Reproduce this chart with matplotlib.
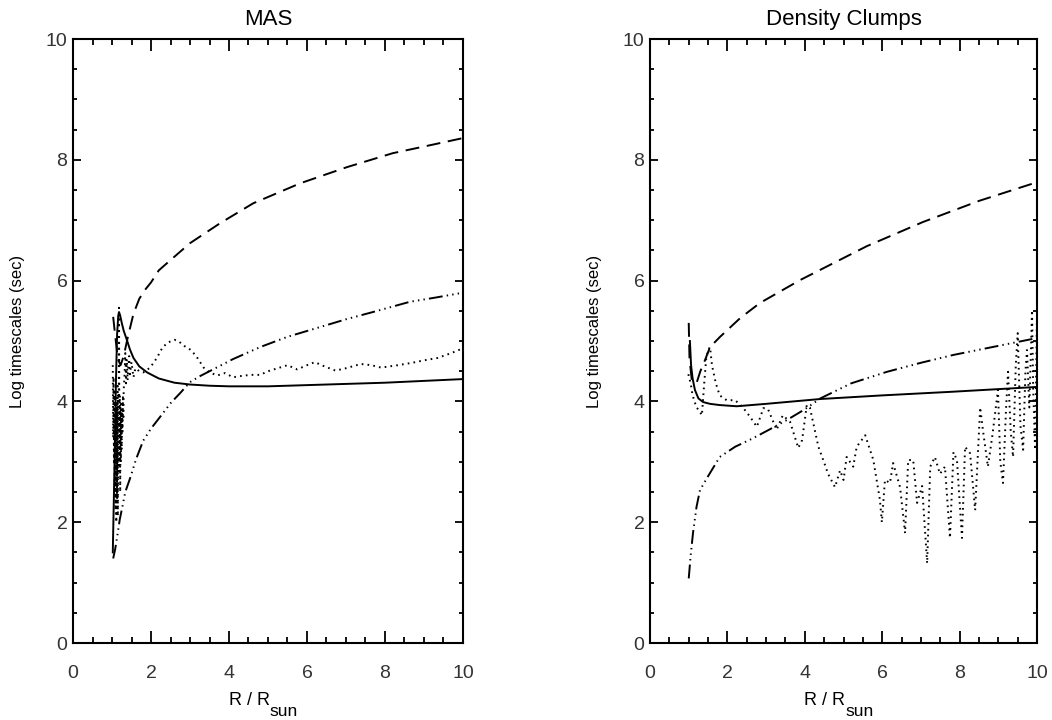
import matplotlib
matplotlib.use('Agg')
import matplotlib.pyplot as plt
from matplotlib.ticker import MultipleLocator

plt.rcParams['font.family'] = ['Liberation Sans', 'DejaVu Sans']
plt.rcParams['lines.scale_dashes'] = False

# ---- MAS panel ----
mas_solid_x = [1.02, 1.06, 1.10, 1.13, 1.16, 1.18, 1.21, 1.25, 1.30, 1.38, 1.46, 1.55, 1.70,
               1.90, 2.20, 2.60, 3.00, 3.50, 4.00, 5.00, 6.00, 7.00, 8.00, 9.00, 10.0]
mas_solid_y = [1.50, 2.80, 4.30, 5.10, 5.42, 5.48, 5.42, 5.30, 5.17, 5.02, 4.86, 4.72, 4.58,
               4.48, 4.38, 4.31, 4.28, 4.26, 4.25, 4.25, 4.27, 4.29, 4.31, 4.34, 4.37]

mas_dash_x = [1.03, 1.08, 1.15, 1.22, 1.30, 1.40, 1.55, 1.70, 1.85, 2.00, 2.20, 2.50, 3.00,
              3.77, 4.62, 5.82, 7.03, 8.20, 9.00, 10.0]
mas_dash_y = [5.40, 5.10, 4.70, 4.60, 4.75, 5.05, 5.45, 5.70, 5.85, 5.97, 6.17, 6.34, 6.62,
              6.95, 7.28, 7.61, 7.88, 8.11, 8.22, 8.36]

mas_dd_x = [1.03, 1.08, 1.13, 1.20, 1.28, 1.34, 1.47, 1.62, 1.80, 2.00, 2.24, 2.50, 2.75,
            3.00, 3.26, 3.50, 4.10, 4.80, 5.50, 6.33, 7.00, 7.69, 8.64, 9.30, 10.0]
mas_dd_y = [1.40, 1.55, 1.75, 2.05, 2.30, 2.50, 2.74, 3.05, 3.35, 3.55, 3.75, 3.97, 4.14,
            4.32, 4.42, 4.50, 4.70, 4.90, 5.07, 5.23, 5.36, 5.48, 5.65, 5.72, 5.80]

mas_dot_x = [1.02, 1.03, 1.04, 1.05, 1.06, 1.07, 1.08, 1.09, 1.10, 1.11, 1.12, 1.13, 1.14,
             1.15, 1.16, 1.17, 1.18, 1.19, 1.20, 1.21, 1.22, 1.23, 1.24, 1.25, 1.26, 1.27,
             1.28, 1.29, 1.30,
             1.32, 1.34, 1.36, 1.38, 1.40, 1.42, 1.44, 1.46, 1.48, 1.50,
             1.55, 1.60, 1.70, 1.80, 1.90, 2.00,
             2.15, 2.30, 2.45, 2.60, 2.70, 2.85, 3.00,
             3.15, 3.35, 3.50, 3.70, 3.90, 4.10, 4.30, 4.55, 4.80, 5.00,
             5.30, 5.50, 5.75, 6.00, 6.20, 6.45, 6.73, 7.00, 7.38, 7.65, 7.90, 8.33, 8.70,
             9.00, 9.35, 9.70, 10.0]
mas_dot_y = [4.60, 3.40, 4.40, 3.00, 4.20, 2.60, 4.10, 2.20, 3.90, 2.00, 4.00, 2.40, 4.30,
             2.10, 4.10, 2.80, 5.55, 3.00, 4.10, 2.50, 3.90, 3.00, 4.00, 3.20, 3.80, 3.50,
             4.10, 3.70, 4.20,
             4.40, 4.80, 4.30, 4.70, 4.35, 4.60, 4.75, 4.45, 4.55, 4.65,
             4.40, 4.55, 4.50, 4.48, 4.52, 4.58,
             4.72, 4.90, 4.98, 5.02, 5.00, 4.92, 4.86,
             4.76, 4.56, 4.48, 4.43, 4.47, 4.40, 4.42, 4.44, 4.44, 4.50,
             4.56, 4.60, 4.53, 4.60, 4.65, 4.58, 4.51, 4.55, 4.62, 4.60, 4.56, 4.60, 4.64,
             4.68, 4.72, 4.80, 4.88]

# ---- Density Clumps panel ----
dc_solid_x = [1.03, 1.06, 1.10, 1.16, 1.25, 1.37, 1.55, 1.80, 2.24, 3.00, 4.40, 6.00, 7.80, 10.0]
dc_solid_y = [5.00, 4.60, 4.38, 4.19, 4.05, 3.99, 3.96, 3.94, 3.92, 3.96, 4.04, 4.10, 4.16, 4.24]

dc_dash_x = [1.00, 1.02, 1.08, 1.20, 1.30, 1.40, 1.55, 1.81, 2.33, 2.84, 3.88, 5.60, 7.05, 8.50, 10.0]
dc_dash_y = [5.30, 4.70, 4.35, 4.30, 4.50, 4.65, 4.90, 5.07, 5.38, 5.63, 6.01, 6.57, 6.97, 7.32, 7.63]

dc_dd_x = [1.00, 1.05, 1.11, 1.20, 1.29, 1.47, 1.80, 2.20, 2.66, 3.10, 3.53, 4.00, 4.40,
           5.20, 6.12, 7.00, 7.84, 9.00, 10.0]
dc_dd_y = [1.07, 1.45, 1.82, 2.25, 2.53, 2.73, 3.08, 3.25, 3.39, 3.54, 3.69, 3.87, 4.05,
           4.30, 4.49, 4.64, 4.77, 4.92, 5.05]

dc_dot_x = [0.99, 1.05, 1.10, 1.20, 1.27, 1.34, 1.40, 1.45, 1.50, 1.55, 1.60, 1.70, 1.80,
            1.98, 2.20, 2.40, 2.58, 2.76, 2.93, 3.05, 3.27, 3.43, 3.62, 3.83, 3.93, 4.05,
            4.13, 4.35, 4.52, 4.60, 4.78, 4.91, 5.00, 5.08, 5.25, 5.34, 5.56, 5.77, 5.94,
            5.99, 6.07, 6.20, 6.28, 6.46, 6.59, 6.67, 6.80, 6.90, 7.03, 7.16, 7.24, 7.36,
            7.49, 7.62, 7.75, 7.84, 7.93, 8.06, 8.14, 8.27, 8.40, 8.53, 8.60, 8.73, 8.84,
            8.99, 9.05, 9.12, 9.20, 9.25, 9.32, 9.38, 9.45, 9.50, 9.57, 9.64, 9.70, 9.74,
            9.80, 9.87, 9.90, 9.95, 10.0]
dc_dot_y = [4.45, 4.30, 4.10, 3.90, 3.85, 3.77, 4.30, 4.70, 4.85, 4.90, 4.60, 4.30, 4.10,
            4.02, 4.02, 3.90, 3.75, 3.58, 3.89, 3.87, 3.53, 3.77, 3.66, 3.23, 3.36, 3.94,
            3.90, 3.25, 2.95, 2.80, 2.58, 2.86, 2.70, 3.08, 2.92, 3.25, 3.44, 3.03, 2.37,
            2.00, 2.70, 2.65, 2.98, 2.58, 1.82, 3.03, 3.03, 2.32, 2.60, 1.32, 2.92, 3.08,
            2.80, 2.92, 1.74, 3.16, 3.03, 1.74, 3.25, 3.14, 2.20, 3.90, 3.53, 2.92, 3.41,
            4.19, 3.00, 2.65, 3.90, 4.49, 3.50, 3.08, 4.60, 5.13, 3.60, 3.20, 4.50, 4.85,
            3.90, 5.51, 4.20, 3.20, 5.50]

titles = ['MAS', 'Density Clumps']

DASH = (0, (10, 5.5))
DASHDOT3 = (0, (10, 3, 1, 3, 1, 3, 1, 3))
DOT = (0, (1.2, 3.0))
LW = 1.4

fig = plt.figure(figsize=(10.52, 7.2), dpi=100)
ax1 = fig.add_axes([0.0694, 0.1069, 0.3707, 0.8389])
ax2 = fig.add_axes([0.6179, 0.1069, 0.3679, 0.8389])

panels = [
    (ax1, mas_solid_x, mas_solid_y, mas_dash_x, mas_dash_y, mas_dd_x, mas_dd_y, mas_dot_x, mas_dot_y),
    (ax2, dc_solid_x, dc_solid_y, dc_dash_x, dc_dash_y, dc_dd_x, dc_dd_y, dc_dot_x, dc_dot_y),
]

for i, (ax, sx, sy, dx, dy, ddx, ddy, ox, oy) in enumerate(panels):
    ax.plot(sx, sy, color='black', lw=LW, linestyle='-')
    ax.plot(dx, dy, color='black', lw=LW, linestyle=DASH)
    ax.plot(ddx, ddy, color='black', lw=LW, linestyle=DASHDOT3)
    ax.plot(ox, oy, color='black', lw=LW, linestyle=DOT)

    ax.set_xlim(0, 10)
    ax.set_ylim(0, 10)
    ax.xaxis.set_major_locator(MultipleLocator(2))
    ax.xaxis.set_minor_locator(MultipleLocator(0.5))
    ax.yaxis.set_major_locator(MultipleLocator(2))
    ax.yaxis.set_minor_locator(MultipleLocator(0.5))
    ax.tick_params(axis='x', which='both', direction='in', top=True, bottom=True,
                   labelsize=14, pad=16, width=1.3)
    ax.tick_params(axis='x', which='major', length=8.5)
    ax.tick_params(axis='x', which='minor', length=4.3)
    ax.tick_params(axis='y', which='both', direction='in', left=True, right=True,
                   labelsize=14, pad=4, width=1.3)
    ax.tick_params(axis='y', which='major', length=5.8)
    ax.tick_params(axis='y', which='minor', length=2.9)
    for lab in ax.get_xticklabels() + ax.get_yticklabels():
        lab.set_color('#333333')
    for sp in ax.spines.values():
        sp.set_linewidth(1.5)

    ax.set_title(titles[i], fontsize=16, pad=10)

    # x label: "R / R" ending at the axis centre, with a large lowered "sun"
    ax.set_xlabel('R / R', fontsize=13)
    ax.xaxis.label.set_horizontalalignment('right')
    ax.xaxis.set_label_coords(0.505, -0.081)
    ax.text(0.505, -0.121, 'sun', transform=ax.transAxes, ha='left', va='baseline',
            fontsize=12.5)

    ax.set_ylabel('Log timescales (sec)', fontsize=12)
    ax.yaxis.set_label_coords(-0.123, 0.516)

fig.savefig('out.png', dpi=100)
